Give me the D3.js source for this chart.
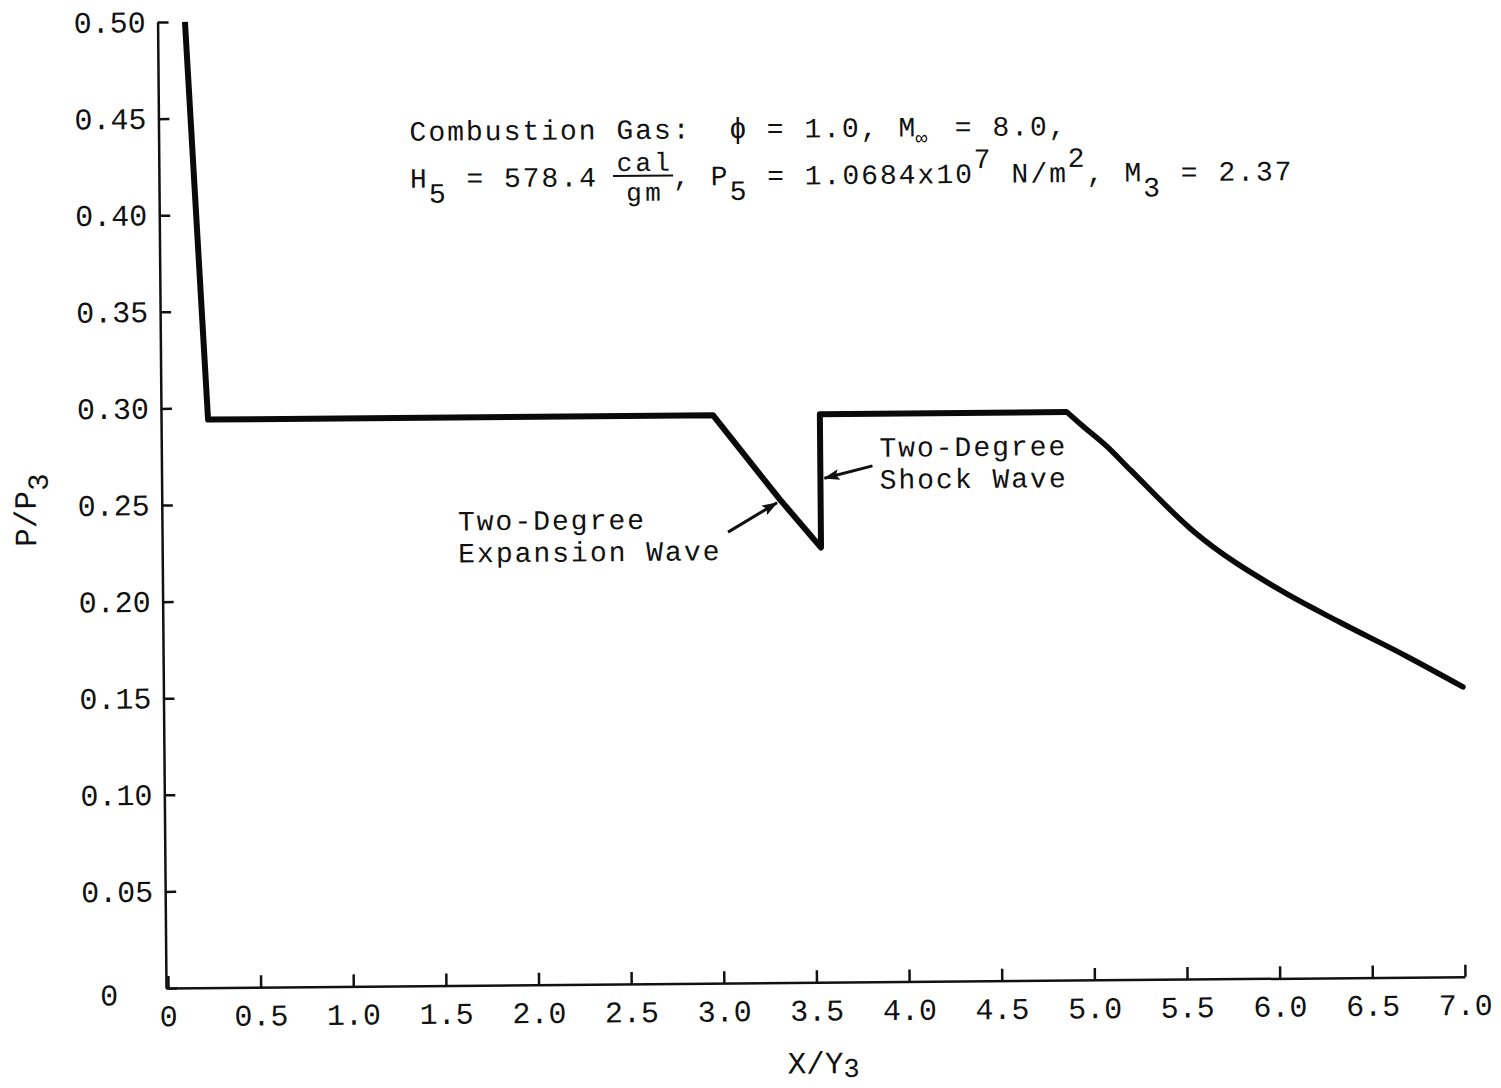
<!DOCTYPE html>
<html>
<head>
<meta charset="utf-8">
<script src="https://cdn.jsdelivr.net/npm/d3@7"></script>
<style>
  html, body { margin: 0; padding: 0; background: #fff; }
  svg { display: block; }
  text { font-family: "Liberation Mono", "DejaVu Sans Mono", monospace; fill: #111; }
</style>
</head>
<body>
<svg id="chart" width="1501" height="1088"></svg>
<script>
// Wall pressure ratio P/P3 along the duct, X/Y3.
// Piecewise-linear part: initial drop, plateau, expansion fan, shock jump, plateau.
const profileX = [0.137, 0.243, 2.968, 3.326, 3.545, 3.545, 4.879];
const profileY = [0.500, 0.294, 0.294, 0.250, 0.225, 0.294, 0.294];
// Smooth decay downstream of the second plateau.
const decayX = [4.879, 4.948, 5.093, 5.216, 5.553, 6.020, 6.342, 6.702, 7.003];
const decayY = [0.294, 0.288, 0.276, 0.264, 0.232, 0.201, 0.184, 0.166, 0.150];

const xTicks = [0, 0.5, 1.0, 1.5, 2.0, 2.5, 3.0, 3.5, 4.0, 4.5, 5.0, 5.5, 6.0, 6.5, 7.0];
const xTickLabels = ["0", "0.5", "1.0", "1.5", "2.0", "2.5", "3.0", "3.5", "4.0", "4.5", "5.0", "5.5", "6.0", "6.5", "7.0"];
const yTicks = [0, 0.05, 0.10, 0.15, 0.20, 0.25, 0.30, 0.35, 0.40, 0.45, 0.50];
const yTickLabels = ["0", "0.05", "0.10", "0.15", "0.20", "0.25", "0.30", "0.35", "0.40", "0.45", "0.50"];

const svg = d3.select("#chart");
svg.append("rect").attr("width", 1501).attr("height", 1088).attr("fill", "#fff");

// whole plate sits very slightly rotated on the page
const g = svg.append("g").attr("transform", "rotate(-0.5,168,988)");

const x = d3.scaleLinear().domain([0, 7]).range([168, 1465]);
const y = d3.scaleLinear().domain([0, 0.5]).range([988, 22]);

// axes with inward ticks
const xAxis = d3.axisBottom(x)
  .tickValues(xTicks)
  .tickFormat((d, i) => xTickLabels[i])
  .tickSizeInner(-12).tickSizeOuter(0).tickPadding(17);
const yAxis = d3.axisLeft(y)
  .tickValues(yTicks)
  .tickFormat((d, i) => yTickLabels[i])
  .tickSizeInner(-11).tickSizeOuter(0).tickPadding(12);

const gx = g.append("g").attr("transform", `translate(0,${y(0)})`).call(xAxis);
const gy = g.append("g").attr("transform", `translate(${x(0) - 2},0)`).call(yAxis);

[gx, gy].forEach(a => {
  a.select(".domain").attr("stroke", "#111").attr("stroke-width", 2.5);
  a.selectAll(".tick line").attr("stroke", "#111").attr("stroke-width", 2.5);
  a.selectAll(".tick text")
    .attr("font-family", "Liberation Mono, DejaVu Sans Mono, monospace")
    .attr("font-size", 30).attr("fill", "#1a1a1a");
});
// the zero of the ordinate is lettered apart from the column of labels
gy.selectAll(".tick").filter(d => d === 0).select("text")
  .attr("x", -48).attr("dy", "0.55em");

// axis titles
const yTitle = g.append("text")
  .attr("transform", "translate(40,509) rotate(-90)")
  .attr("text-anchor", "middle")
  .attr("font-size", 31);
yTitle.append("tspan").text("P/P");
yTitle.append("tspan").attr("dy", 12).attr("font-size", 29).text("3");

const xTitle = g.append("text")
  .attr("x", 823).attr("y", 1079)
  .attr("text-anchor", "middle")
  .attr("font-size", 31);
xTitle.append("tspan").text("X/Y");
xTitle.append("tspan").attr("dy", 4).attr("font-size", 27).text("3");

// pressure curve
const line = d3.line().x(d => x(d[0])).y(d => y(d[1]));
const smooth = d3.line().x(d => x(d[0])).y(d => y(d[1])).curve(d3.curveMonotoneX);

g.append("path")
  .datum(d3.zip(profileX, profileY))
  .attr("d", line)
  .attr("fill", "none").attr("stroke", "#0a0a0a")
  .attr("stroke-width", 6).attr("stroke-linejoin", "round");
g.append("path")
  .datum(d3.zip(decayX, decayY))
  .attr("d", smooth)
  .attr("fill", "none").attr("stroke", "#0a0a0a")
  .attr("stroke-width", 5.5).attr("stroke-linejoin", "round").attr("stroke-linecap", "round");

// typed legend block, monospaced cells
const pitch = 18.8;
function typeLine(x0, y0, pieces) {
  pieces.forEach(p => {
    const fs = p.fs || 28;
    g.append("text")
      .attr("x", x0 + p.c * pitch)
      .attr("y", y0 + (p.dy || 0))
      .attr("font-size", fs)
      .attr("letter-spacing", p.sym ? 0 : pitch - fs * 0.6)
      .text(p.t);
  });
}
typeLine(417, 143, [
  { t: "Combustion Gas:", c: 0 },
  { t: "\u03D5", c: 17, fs: 29, sym: true },
  { t: "= 1.0, M", c: 19 },
  { t: "\u221E", c: 26.9, dy: 8, fs: 20, sym: true },
  { t: "= 8.0,", c: 29 }
]);
typeLine(417, 190, [
  { t: "H", c: 0 },
  { t: "5", c: 1, dy: 15 },
  { t: "= 578.4", c: 3 },
  { t: "cal", c: 11, dy: -15, fs: 26 },
  { t: "gm", c: 11.5, dy: 15, fs: 26 },
  { t: ",", c: 14 },
  { t: "P", c: 16 },
  { t: "5", c: 17, dy: 15 },
  { t: "= 1.0684x10", c: 19 },
  { t: "7", c: 30, dy: -15 },
  { t: "N/m", c: 32 },
  { t: "2", c: 35, dy: -15 },
  { t: ",", c: 36 },
  { t: "M", c: 38 },
  { t: "3", c: 39, dy: 15 },
  { t: "= 2.37", c: 41 }
]);
// fraction bar under "cal"
g.append("line")
  .attr("x1", 417 + 10.8 * pitch).attr("x2", 417 + 14 * pitch)
  .attr("y1", 180).attr("y2", 180)
  .attr("stroke", "#111").attr("stroke-width", 2);

// wave call-outs
typeLine(462, 533, [{ t: "Two-Degree", c: 0 }]);
typeLine(462, 565, [{ t: "Expansion Wave", c: 0 }]);
typeLine(884, 463, [{ t: "Two-Degree", c: 0 }]);
typeLine(884, 495, [{ t: "Shock Wave", c: 0 }]);

const defs = svg.append("defs");
defs.append("marker")
  .attr("id", "head")
  .attr("markerUnits", "userSpaceOnUse")
  .attr("viewBox", "0 0 16 11")
  .attr("refX", 15).attr("refY", 5.5)
  .attr("markerWidth", 16).attr("markerHeight", 11)
  .attr("orient", "auto")
  .append("path").attr("d", "M0,0 L16,5.5 L0,11 L3,5.5 Z").attr("fill", "#111");

g.append("line")
  .attr("x1", 732).attr("y1", 537)
  .attr("x2", x(3.326) - 3).attr("y2", y(0.250) + 3)
  .attr("stroke", "#111").attr("stroke-width", 3)
  .attr("marker-end", "url(#head)");
g.append("line")
  .attr("x1", 877).attr("y1", 472)
  .attr("x2", x(3.545) + 4).attr("y2", 484)
  .attr("stroke", "#111").attr("stroke-width", 3)
  .attr("marker-end", "url(#head)");
</script>
</body>
</html>
